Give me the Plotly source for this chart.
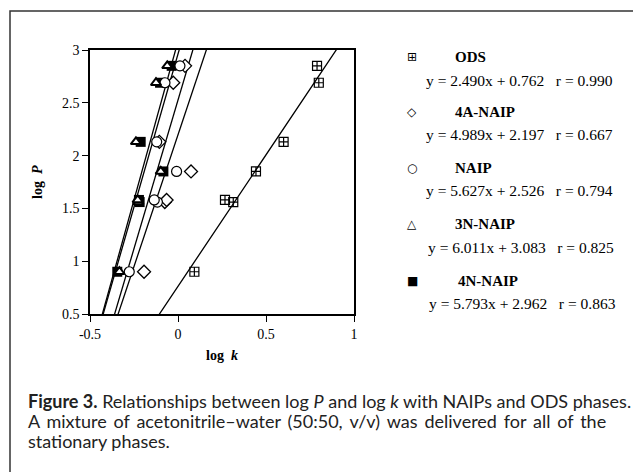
import plotly.graph_objects as go
import numpy as np

# ---- data ----
log_p = [0.90, 1.56, 1.58, 1.85, 2.13, 2.69, 2.85]
ods_k = [0.093, 0.314, 0.267, 0.443, 0.600, 0.800, 0.790]
naip4a_k = [-0.193, -0.075, -0.065, 0.074, -0.106, -0.027, 0.040]
naip_k = [-0.277, -0.117, -0.135, -0.008, -0.121, -0.074, 0.011]
naip3n_k = [-0.333, -0.225, -0.229, -0.098, -0.239, -0.125, -0.061]
naip4n_k = [-0.345, -0.218, -0.222, -0.083, -0.212, -0.102, -0.036]

series_names = ["ODS", "4A-NAIP", "NAIP", "3N-NAIP", "4N-NAIP"]
slopes = [2.490, 4.989, 5.627, 6.011, 5.793]
intercepts = [0.762, 2.197, 2.526, 3.083, 2.962]
r_values = [0.990, 0.667, 0.794, 0.825, 0.863]

x_ticks = [-0.5, 0, 0.5, 1]
x_tick_labels = ["-0.5", "0", "0.5", "1"]
y_ticks = [0.5, 1, 1.5, 2, 2.5, 3]
y_tick_labels = ["0.5", "1", "1.5", "2", "2.5", "3"]

# ---- layout geometry (page pixels; page has 8px body margin) ----
OFF = 8
W, H = 641 - OFF, 472 - OFF
PL, PR, PT, PB = 90, 354, 50, 314   # plot area in page pixels
pw, ph = PR - PL, PB - PT

def px(x):
    return (x - PL) / pw

def py(y):
    return (PB - y) / ph

SERIF = "Liberation Serif, Times New Roman, serif"
fig = go.Figure()

# regression lines
xl = np.linspace(-0.5, 1.0, 200)
for m, b in zip(slopes, intercepts):
    fig.add_trace(go.Scatter(x=xl, y=m * xl + b, mode="lines",
                             line=dict(color="black", width=1.3),
                             showlegend=False, hoverinfo="skip"))

# points
fig.add_trace(go.Scatter(x=ods_k, y=log_p, mode="markers", name="ODS",
                         marker=dict(symbol="square-cross-open", size=9, color="black",
                                     line=dict(width=1.2))))
fig.add_trace(go.Scatter(x=naip4n_k, y=log_p, mode="markers", name="4N-NAIP",
                         marker=dict(symbol="square", size=10, color="black")))
fig.add_trace(go.Scatter(x=naip4a_k, y=log_p, mode="markers", name="4A-NAIP",
                         marker=dict(symbol="diamond", size=10, color="white",
                                     line=dict(color="black", width=1.3))))
fig.add_trace(go.Scatter(x=naip_k, y=log_p, mode="markers", name="NAIP",
                         marker=dict(symbol="circle", size=10, color="white",
                                     line=dict(color="black", width=1.2))))
fig.add_trace(go.Scatter(x=naip3n_k, y=log_p, mode="markers", name="3N-NAIP",
                         marker=dict(symbol="triangle-up", size=9, color="white",
                                     line=dict(color="black", width=2))))

axis_common = dict(showgrid=False, zeroline=False, showline=True, linecolor="black",
                   linewidth=1.5, mirror=True, ticks="outside", ticklen=6,
                   tickcolor="black", tickfont=dict(family=SERIF, size=14, color="black"))
fig.update_xaxes(range=[-0.5, 1], tickvals=x_ticks, ticktext=x_tick_labels, **axis_common)
fig.update_yaxes(range=[0.5, 3], tickvals=y_ticks, ticktext=y_tick_labels, **axis_common)

ann = []
ann.append(dict(x=px(222), y=py(355), text="<b>log  <i>k</i></b>", showarrow=False,
                xanchor="center", yanchor="middle",
                font=dict(family=SERIF, size=14, color="black")))
ann.append(dict(x=px(37), y=py(182), text="<b>log  <i>P</i></b>", showarrow=False, textangle=-90,
                xanchor="center", yanchor="middle",
                font=dict(family=SERIF, size=14, color="black")))

# legend block
symbols = ["⊞", "◇", "○", "△", "■"]
sym_y = [57, 112, 168, 224, 281]
eq_y = [80, 134, 190, 247, 303]
title_x = [453, 453, 453, 453, 456]
eq_x = [424, 424, 424, 426, 427]
SP = "&nbsp;" * 3
for i, name in enumerate(series_names):
    ann.append(dict(x=px(412), y=py(sym_y[i]), text=symbols[i], showarrow=False,
                    xanchor="center", yanchor="middle",
                    font=dict(family="DejaVu Sans", size=12, color="black")))
    ann.append(dict(x=px(title_x[i]), y=py(sym_y[i]), xanchor="left", yanchor="middle",
                    text=f"<b>{name}</b>",
                    showarrow=False, font=dict(family=SERIF, size=15, color="black")))
    ann.append(dict(x=px(eq_x[i]), y=py(eq_y[i]), xanchor="left", yanchor="middle",
                    text=f"y = {slopes[i]:.3f}x + {intercepts[i]:.3f}{SP}r = {r_values[i]:.3f}",
                    showarrow=False, font=dict(family=SERIF, size=15.5, color="black")))

# caption (line 2 justified with thin spaces)
CAP = "Lato, Open Sans, sans-serif"
line2_words = "A mixture of acetonitrile–water (50:50, v/v) was delivered for all of the".split(" ")
cap_lines = [
    "<b>Figure 3.</b> Relationships between log <i>P</i> and log <i>k</i> with NAIPs and ODS phases.",
    " \u2009".join(line2_words),
    "stationary phases.",
]
cap_y = [401, 421, 441]
for t, yy in zip(cap_lines, cap_y):
    ann.append(dict(x=px(26), y=py(yy), xanchor="left", yanchor="middle", text=t, showarrow=False,
                    font=dict(family=CAP, size=18, color="#222")))

for a in ann:
    a.setdefault("xref", "paper")
    a.setdefault("yref", "paper")

fig.update_layout(
    width=W, height=H,
    margin=dict(l=PL - OFF, r=W - (PR - OFF), t=PT - OFF, b=H - (PB - OFF), pad=0),
    paper_bgcolor="white", plot_bgcolor="white", showlegend=False,
    annotations=ann,
    shapes=[dict(type="rect", xref="paper", yref="paper",
                 x0=px(10), x1=px(680), y0=py(520), y1=py(11),
                 line=dict(color="#333", width=1.5), layer="below")],
)

fig.write_html("out.html")
